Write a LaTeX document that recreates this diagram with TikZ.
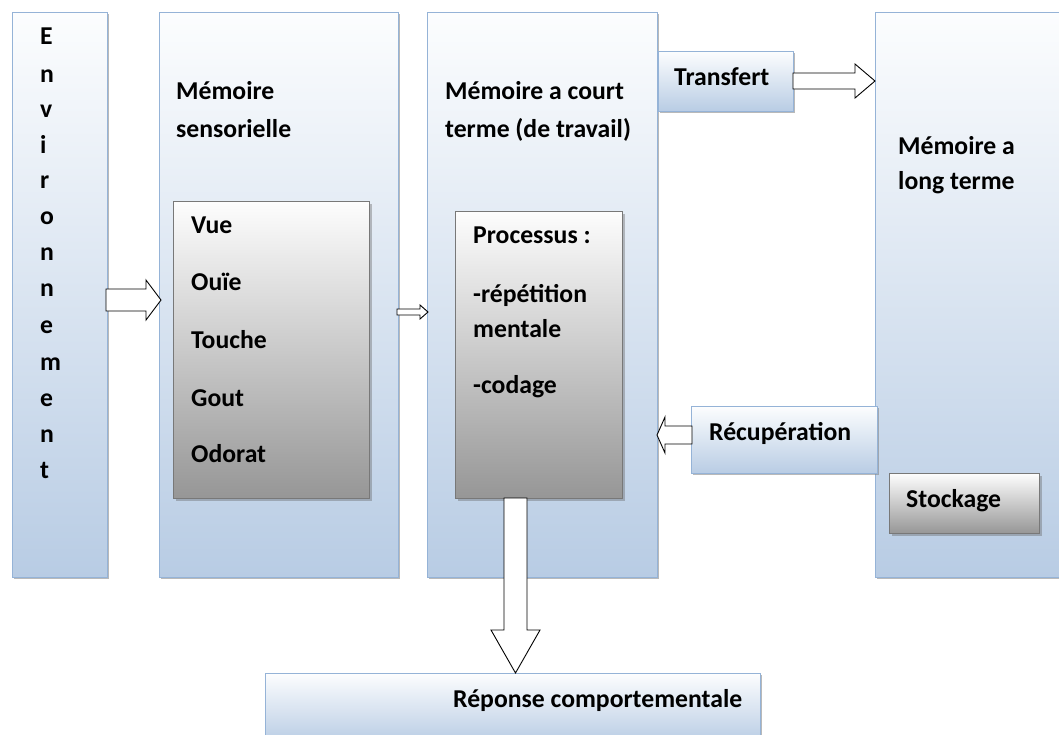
\documentclass[tikz,border=0pt]{standalone}
\usepackage{fontspec}
\setmainfont{Carlito}
\usetikzlibrary{shadows}
\definecolor{bxtop}{RGB}{252,253,254}
\definecolor{bxbot}{RGB}{184,204,228}
\definecolor{bxline}{RGB}{149,179,215}
\definecolor{gytop}{RGB}{253,253,253}
\definecolor{gybot}{RGB}{150,150,150}
\definecolor{gyline}{RGB}{120,120,120}
\begin{document}
\begin{tikzpicture}[x=1pt,y=-1pt,
  bluebox/.style={draw=bxline, line width=1.1pt, top color=bxtop, bottom color=bxbot,
    inner sep=0pt, anchor=north west,
    drop shadow={shadow xshift=1.5pt, shadow yshift=-1.5pt, fill=black!50, opacity=.55}},
  graybox/.style={draw=gyline, line width=1.3pt, top color=gytop, bottom color=gybot,
    inner sep=0pt, anchor=north west,
    drop shadow={shadow xshift=2.5pt, shadow yshift=-2.5pt, fill=black!60, opacity=.4}},
  lbl/.style={anchor=base west, inner sep=0pt, font=\fontsize{25.7}{30}\selectfont\bfseries},
  blockarrow/.style={draw=black, fill=white, line width=0.9pt, line join=miter}]
\path[use as bounding box, clip] (0,0) rectangle (1059,734);
\fill[white] (0,0) rectangle (1059,734);

% outer boxes
\node[bluebox, minimum width=95pt, minimum height=565pt] (env) at (12,12) {};
\node[bluebox, minimum width=239pt, minimum height=565pt] (sens) at (159,12) {};
\node[bluebox, minimum width=230pt, minimum height=565pt] (court) at (427,12) {};
\node[bluebox, minimum width=200pt, minimum height=565pt] (long) at (875,12) {};
\node[bluebox, minimum width=135pt, minimum height=60pt] (trans) at (658,51) {};
\node[bluebox, minimum width=186pt, minimum height=67pt] (recup) at (691,406) {};
\node[bluebox, minimum width=495pt, minimum height=70pt] (rep) at (265,673) {};

% inner boxes
\node[graybox, minimum width=196pt, minimum height=297pt] (sensin) at (173,201) {};
\node[graybox, minimum width=167pt, minimum height=287pt] (proc) at (455,211) {};
\node[graybox, minimum width=150pt, minimum height=60pt] (stock) at (889,473) {};

% block arrows
\draw[blockarrow] (106,289) -- (146,289) -- (146,280) -- (161,300) -- (146,320) -- (146,311) -- (106,311) -- cycle;
\draw[blockarrow] (397,309) -- (420,309) -- (420,305) -- (428,312) -- (420,319) -- (420,315) -- (397,315) -- cycle;
\draw[blockarrow] (793,73) -- (855,73) -- (855,64) -- (875,81) -- (855,98) -- (855,89) -- (793,89) -- cycle;
\draw[blockarrow] (692,426) -- (665,426) -- (665,417) -- (657,435) -- (665,453) -- (665,444) -- (692,444) -- cycle;
\draw[blockarrow] (504,498) -- (527,498) -- (527,630) -- (540,630) -- (515.5,673) -- (491,630) -- (504,630) -- cycle;

% environment letters
\foreach \l/\yy [count=\i] in {E/44, n/82, v/117, i/153, r/188, o/224, n/260, n/296, e/333, m/370, e/406, n/442, t/478}
  \node[lbl] (envl\i) at (40,\yy) {\l};

% labels
\node[lbl] (sens1) at (176,99) {Mémoire};
\node[lbl] (sens2) at (176,137) {sensorielle};
\node[lbl] (vue) at (191,233) {Vue};
\node[lbl] (ouie) at (191,290) {Ouïe};
\node[lbl] (touche) at (191,348) {Touche};
\node[lbl] (gout) at (191,406) {Gout};
\node[lbl] (odorat) at (191,462) {Odorat};
\node[lbl] (court1) at (445,99) {Mémoire a court};
\node[lbl] (court2) at (445,137) {terme (de travail)};
\node[lbl] (proc1) at (473,243) {Processus :};
\node[lbl] (proc2) at (473,302) {-répétition};
\node[lbl] (proc3) at (473,337) {mentale};
\node[lbl] (proc4) at (473,393) {-codage};
\node[lbl] (transl) at (674,85) {Transfert};
\node[lbl] (long1) at (898,154) {Mémoire a};
\node[lbl] (long2) at (898,189) {long terme};
\node[lbl] (recupl) at (709,440) {Récupération};
\node[lbl] (stockl) at (906,507) {Stockage};
\node[lbl] (repl) at (453,707) {Réponse comportementale};
\end{tikzpicture}
\end{document}
